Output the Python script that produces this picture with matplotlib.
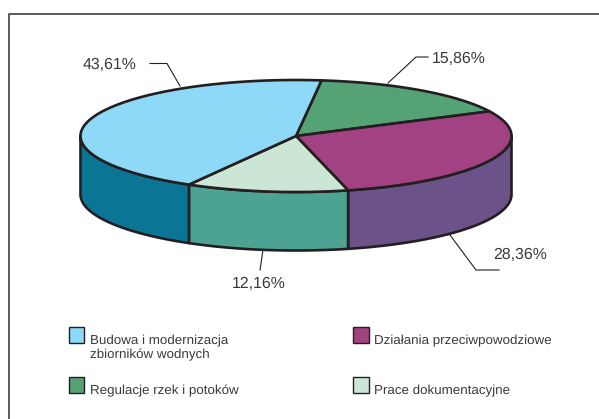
import numpy as np
import matplotlib
matplotlib.use("Agg")
import matplotlib.pyplot as plt
from matplotlib.patches import Polygon, Rectangle

labels = ["Budowa i modernizacja\nzbiorników wodnych", "Regulacje rzek i potoków",
          "Działania przeciwpowodziowe", "Prace dokumentacyjne"]
# clockwise from the top of the pie: green, purple, pale, blue
shares = [15.86, 28.36, 12.16, 43.61]
share_labels = ["15,86%", "28,36%", "12,16%", "43,61%"]
top_colors = ["#55a275", "#a34283", "#cce6d6", "#8ed8f8"]
side_colors = ["#55a275", "#6b5288", "#4ca392", "#0b7596"]
legend_colors = ["#8ed8f8", "#55a275", "#a34283", "#cce6d6"]

EDGE = "#231f20"
TEXT = "#3a3a3c"
CX, CY, RX, RY, DEPTH = 296, 136, 215.5, 56, 58.5
START = 83.2


def ell(t):
    r = np.radians(t)
    return CX + RX * np.cos(r), CY - RY * np.sin(r)


plt.rcParams["font.family"] = ["Liberation Sans", "DejaVu Sans"]
plt.rcParams["text.hinting"] = "no_hinting"
fig = plt.figure(figsize=(5.99, 4.19), dpi=100)
ax = fig.add_axes([0, 0, 1, 1])
ax.set_xlim(0, 599)
ax.set_ylim(419, 0)
ax.axis("off")

# frame
ax.plot([8.5, 8.5, 599], [419, 14, 14], color="#4d4d4f", lw=1.3)

edges = START - np.cumsum([0] + shares) / sum(shares) * 360

# sides first, only the part facing the viewer (180..360 deg)
for i in range(len(shares)):
    a, b = edges[i], edges[i + 1]
    lo, hi = max(b, -180), min(a, 0)
    if lo >= hi:
        continue
    t = np.linspace(hi, lo, 80)
    x, y = ell(t)
    pts = np.r_[np.c_[x, y], np.c_[x[::-1], y[::-1] + DEPTH]]
    ax.add_patch(Polygon(pts, closed=True, fc=side_colors[i], ec=EDGE, lw=1.9, joinstyle="round"))

# top face
for i in range(len(shares)):
    t = np.linspace(edges[i], edges[i + 1], 160)
    x, y = ell(t)
    pts = np.r_[[[CX, CY]], np.c_[x, y]]
    ax.add_patch(Polygon(pts, closed=True, fc=top_colors[i], ec=EDGE, lw=1.9, joinstyle="round"))

# leader lines
leaders = [
    ([388, 416, 428], [83, 57, 57]),
    ([450, 476, 499], [235, 270, 270]),
    ([263, 260], [250, 270]),
    ([180, 167, 150], [86, 63.5, 63.5]),
]
for lx, ly in leaders:
    ax.plot(lx, ly, color=EDGE, lw=0.8)

label_pos = [(432, 58.5, "left"), (493, 254.5, "left"), (259, 283.5, "center"), (136.5, 65, "right")]
for s, (tx, ty, ha) in zip(share_labels, label_pos):
    ax.text(tx, ty, s, ha=ha, va="center", fontsize=11.4, color=TEXT)

# legend
legend_pos = [(68.5, 327), (68.5, 377), (353, 327), (353, 377)]
for name, col, (bx, by) in zip(labels, legend_colors, legend_pos):
    ax.add_patch(Rectangle((bx, by), 15.5, 15.5, fc=col, ec=EDGE, lw=1.0))
    ax.text(bx + 21, by + 7.5, name, ha="left", va="top", fontsize=9.6, color=TEXT, linespacing=1.25)

fig.savefig("out.png", dpi=100)
